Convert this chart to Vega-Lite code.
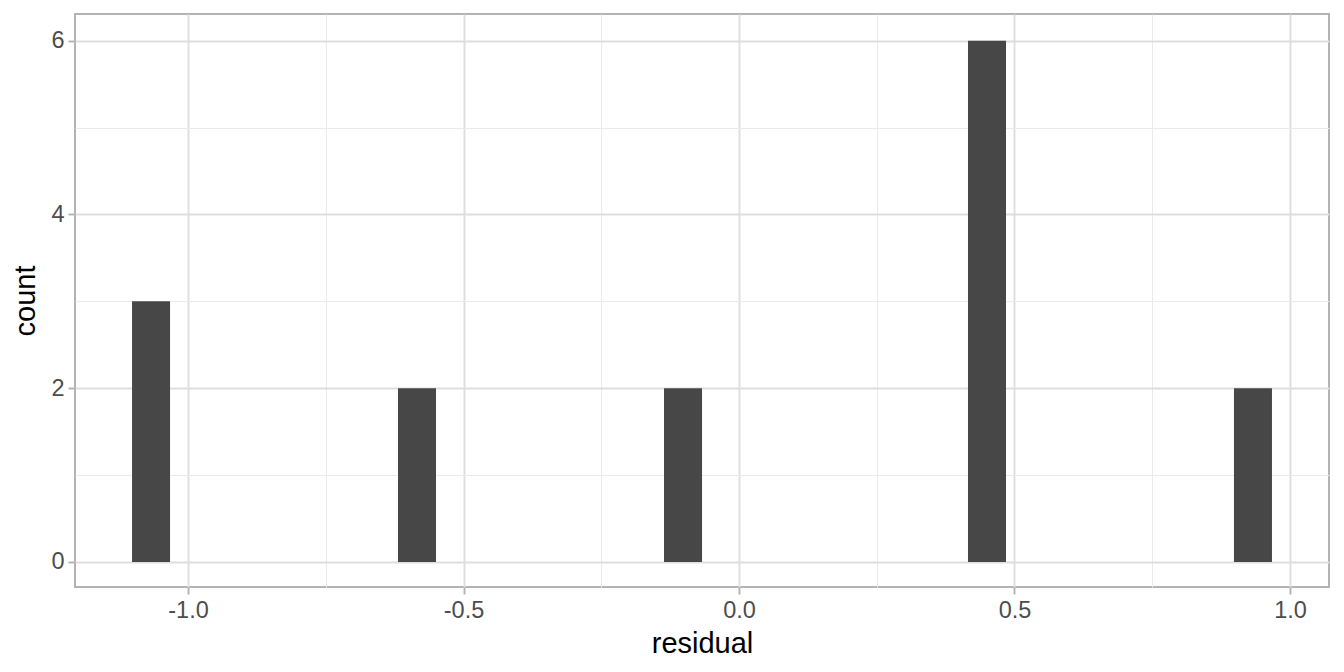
{
  "$schema": "https://vega.github.io/schema/vega-lite/v6.json",
  "autosize": {"type": "none"},
  "padding": {"left": 75, "top": 14, "right": 15, "bottom": 85},
  "width": 1254,
  "height": 573,
  "background": "white",
  "config": {
    "font": "Liberation Sans",
    "view": {"stroke": "#b3b3b3", "strokeWidth": 2},
    "axis": {
      "domain": false,
      "tickColor": "#b3b3b3",
      "tickWidth": 1.9,
      "tickSize": 7,
      "labelFont": "Liberation Sans",
      "labelFontSize": 23.5,
      "labelColor": "#4d4d4d",
      "labelPadding": 4,
      "titleFont": "Liberation Sans",
      "titleFontSize": 29,
      "titleFontWeight": "normal",
      "titleColor": "#000000",
      "gridColor": "#dedede"
    }
  },
  "data": {
    "values": [
      {"bin_start": -1.1016, "bin_end": -1.0326, "count": 3},
      {"bin_start": -0.6189, "bin_end": -0.5499, "count": 2},
      {"bin_start": -0.1361, "bin_end": -0.0671, "count": 2},
      {"bin_start": 0.4156, "bin_end": 0.4846, "count": 6},
      {"bin_start": 0.8983, "bin_end": 0.9673, "count": 2}
    ]
  },
  "mark": {"type": "bar", "color": "#474747", "cornerRadius": 0},
  "encoding": {
    "x": {
      "field": "bin_start",
      "type": "quantitative",
      "scale": {"domain": [-1.2051, 1.0708], "zero": false, "nice": false, "padding": 0},
      "axis": {
        "title": "residual",
        "values": [-1, -0.75, -0.5, -0.25, 0, 0.25, 0.5, 0.75, 1],
        "labelExpr": "(datum.value * 4) % 2 != 0 ? '' : (datum.value < 0 ? '-' : '') + format(abs(datum.value), '.1f')",
        "tickOpacity": {"condition": {"test": "(datum.value * 4) % 2 != 0", "value": 0}, "value": 1},
        "gridWidth": {"condition": {"test": "(datum.value * 4) % 2 != 0", "value": 1}, "value": 1.9},
        "gridColor": {"condition": {"test": "(datum.value * 4) % 2 != 0", "value": "#ebebeb"}, "value": "#dedede"},
        "titlePadding": 8
      }
    },
    "x2": {"field": "bin_end"},
    "y": {
      "field": "count",
      "type": "quantitative",
      "scale": {"domain": [-0.2878, 6.307], "zero": false, "nice": false, "padding": 0},
      "axis": {
        "title": "count",
        "values": [0, 1, 2, 3, 4, 5, 6],
        "labelExpr": "datum.value % 2 != 0 ? '' : format(datum.value, 'd')",
        "tickOpacity": {"condition": {"test": "datum.value % 2 != 0", "value": 0}, "value": 1},
        "gridWidth": {"condition": {"test": "datum.value % 2 != 0", "value": 1}, "value": 1.9},
        "gridColor": {"condition": {"test": "datum.value % 2 != 0", "value": "#ebebeb"}, "value": "#dedede"},
        "titlePadding": 10
      }
    },
    "y2": {"datum": 0}
  }
}
